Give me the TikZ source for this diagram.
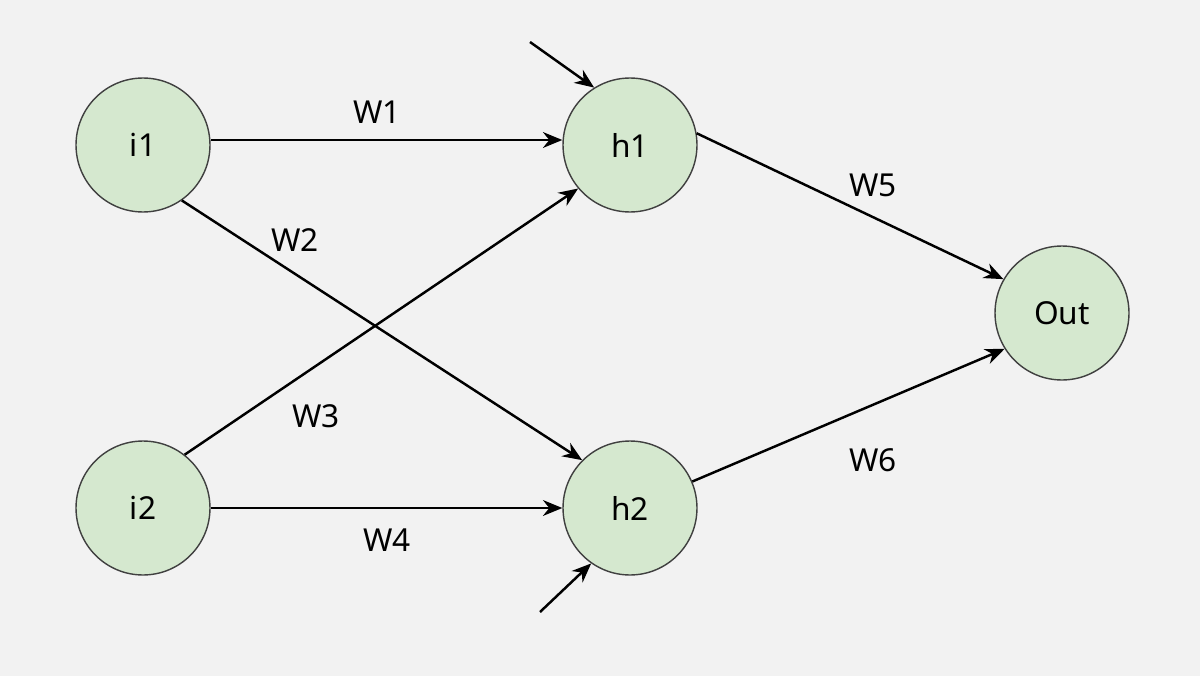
\documentclass[tikz,border=0pt]{standalone}
\usepackage{fontspec}
\setmainfont{Noto Sans}
\usetikzlibrary{positioning,arrows.meta}
\tikzset{>={Stealth[length=11pt,width=9pt]}}
\definecolor{bgcol}{HTML}{F2F2F2}
\definecolor{nodecol}{HTML}{D5E8CF}
\definecolor{edgecol}{HTML}{404040}
\begin{document}
\begin{tikzpicture}[x=0.02cm,y=-0.02cm,
  neuron/.style={circle,draw=edgecol,fill=nodecol,line width=0.8pt,minimum size=2.68cm,inner sep=0pt,font=\fontsize{18}{21}\selectfont},
  wlabel/.style={font=\fontsize{18}{21}\selectfont},
  conn/.style={->,line width=1.4pt}]
\fill[bgcol] (0,0) rectangle (1200,676);
\useasboundingbox (0,0) rectangle (1200,676);
\node[neuron] (i1) at (143,145) {i1};
\node[neuron] (i2) at (143,508) {i2};
\node[neuron] (h1) at (630,145) {h1};
\node[neuron] (h2) at (630,508) {h2};
\node[neuron] (out) at (1062,313) {Out};
\coordinate (b1) at (530,42);
\coordinate (b2) at (540,612);
\draw[conn] (i1.east |- 0,140) -- (h1.west |- 0,140);
\draw[conn] (i1.-55) -- (h2.135);
\draw[conn] (i2.52) -- (h1.-140);
\draw[conn] (i2) -- (h2);
\draw[conn] (h1.10) -- (out.150);
\draw[conn] (h2) -- (out.-148);
\draw[conn] (b1) -- (h1.122);
\draw[conn] (b2) -- (h2.-125);
\node[wlabel] (w1) at (377,112) {W1};
\node[wlabel] (w2) at (295,240) {W2};
\node[wlabel] (w3) at (316,416) {W3};
\node[wlabel] (w4) at (387,540) {W4};
\node[wlabel] (w5) at (873,185) {W5};
\node[wlabel] (w6) at (873,460) {W6};
\end{tikzpicture}
\end{document}
